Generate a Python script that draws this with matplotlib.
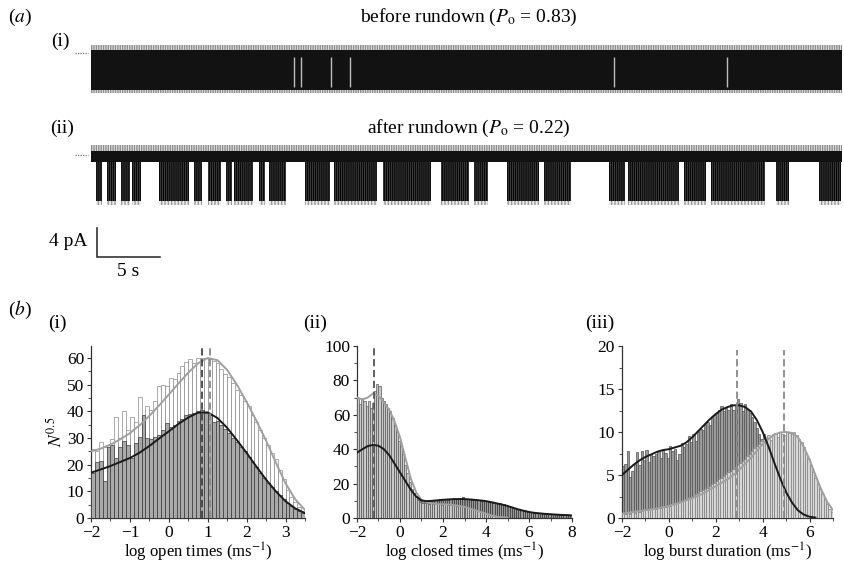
import numpy as np
import matplotlib
matplotlib.use("Agg")
import matplotlib.pyplot as plt
from matplotlib.patches import Rectangle
from matplotlib.ticker import MultipleLocator

plt.rcParams['font.family'] = ['Liberation Serif', 'DejaVu Serif']
plt.rcParams['mathtext.fontset'] = 'stix'
plt.rcParams['hatch.linewidth'] = 1.0

# ------------------------------------------------------------------ data
TRACE_DURATION_S = 60
closed_level = 0.0          # pA
open_level_i = -4.8         # pA, before rundown
open_level_ii = -6.3        # pA, after rundown

# (a)(i): brief long closures visible as light gaps in the dense trace (s)
trace_i_gaps = [16.2, 16.8, 19.2, 20.7, 41.8, 50.8]

# (a)(ii): bursts of openings after rundown (start, end in s)
burst_start = [0.4, 1.25, 2.42, 3.28, 5.43, 8.23, 9.31, 10.79, 11.46, 13.4, 14.26,
               17.06, 19.4, 23.3, 28.0, 30.6, 33.2, 36.2, 41.4, 42.9, 47.4, 49.57,
               54.7, 58.2]
burst_end = [0.9, 1.99, 3.15, 4.0, 7.8, 8.87, 10.39, 11.26, 12.94, 13.9, 15.55,
             19.09, 22.85, 27.2, 30.2, 31.7, 35.8, 38.35, 42.7, 46.98, 49.1, 53.85,
             55.8, 59.9]

# (b)(i) open times, N^0.5 per 0.1 log bin starting at -2
open_before = [26, 25, 28.5, 26.5, 27.5, 29.5, 38, 30, 40, 33,
               38, 36, 45.5, 37.5, 42, 40.5, 44, 49.5, 50, 49.5,
               52.5, 52, 54.5, 57, 58.5, 59.5, 58, 60, 60, 60,
               59.5, 59, 58, 56, 54, 53, 50.5, 48, 46, 44,
               42, 38.5, 36, 33, 30, 27.5, 24.5, 22, 18, 14.5,
               10.5, 8, 6, 4, 2.5]
open_after = [17, 21, 21.5, 14, 26.5, 27.5, 22.5, 26.5, 29, 27.5,
              22.5, 28, 30.5, 38.5, 30, 29.5, 30.5, 31, 33, 35.5,
              34, 35, 36.5, 37, 38.5, 39, 39.5, 40, 40.5, 39.5,
              38.5, 36, 36.5, 35, 33.5, 32, 30, 28.5, 26.5, 25,
              23, 21, 19, 17, 15, 13, 11.5, 10, 8.5, 7,
              5.5, 4.5, 3.5, 2.5, 2]
open_fit_before = [25, 26, 27.5, 29.5, 31.8, 34.8, 38.3, 42.2, 46.3, 50.5, 54.5, 58,
                   60, 59.2, 55.5, 50, 43.5, 36.5, 29, 20.8, 13, 7, 3]
open_fit_after = [17, 18.2, 19.5, 21, 22.5, 24.5, 27, 29.8, 32.5, 35.3, 37.7, 39.5,
                  39.6, 37.5, 33.8, 29.2, 24.4, 19.3, 14.4, 10, 6.3, 3.6, 1.8]
open_peaks = [0.86, 1.06]

# (b)(ii) closed times
closed_before = [70, 66, 70, 68, 65, 68, 64, 67, 74, 78,
                 77, 70, 68, 66, 64, 62, 58, 54, 50, 45,
                 42, 37, 31, 26, 21, 17, 14, 12, 10.5, 9.5,
                 9, 8.5, 8.5, 8, 8.5, 8, 8, 8.5, 8, 7.5,
                 8, 8, 7.5, 7.5, 8, 7.5, 7, 7.5, 7, 7,
                 6.5, 6.5, 6, 5.5, 5, 4.5, 4, 4, 3.5, 3,
                 2.5, 2, 1.5, 1.5, 1, 0.8, 0.5, 0.3, 0.2, 0,
                 0, 0, 0, 0, 0, 0, 0, 0, 0, 0,
                 0, 0, 0, 0, 0, 0, 0, 0, 0, 0,
                 0, 0, 0, 0, 0, 0, 0, 0, 0, 0]
closed_after = [38, 39, 40, 40.5, 41, 41.5, 42, 42.5, 42.5, 42,
                41.5, 41, 40, 39, 37.5, 36, 34, 32, 30, 28,
                26, 24, 22, 20, 18, 16, 14.5, 13, 12, 11,
                10.5, 10, 10, 10.5, 10, 10.5, 10.5, 10.5, 11, 10.5,
                11, 11, 10.5, 11, 11, 11, 11, 11.5, 11, 12,
                11, 11, 11, 10.5, 11, 10.5, 10.5, 10, 10.5, 10,
                10, 9.5, 9.5, 9, 9, 8.5, 8.5, 8, 8, 7.5,
                7, 6.5, 6, 6, 5.5, 5, 4.5, 4.5, 4, 4,
                3.5, 3.5, 3, 3, 3, 2.8, 2.6, 2.5, 2.4, 2.3,
                2.2, 2.1, 2, 2, 1.9, 1.8, 1.8, 1.7, 1.6, 1.5]
closed_fit_before = [70, 69, 70, 72.5, 71, 67, 63, 56, 47, 35, 23, 15, 10.5, 9, 8.5,
                     8, 8, 7.8, 7.5, 7, 6.5, 5.5, 4.5, 3.5, 2.5, 1.5, 0.8, 0.4, 0.2]
closed_fit_after = [38, 40, 41.8, 42.5, 42, 40, 36.5, 31.5, 26.5, 21.5, 16.5, 12.5,
                    10.2, 9.8, 10, 10.3, 10.6, 10.8, 11, 11, 11, 10.8, 10.5, 10.2, 9.8,
                    9.2, 8.5, 7.8, 7, 6, 5, 4.2, 3.5, 3, 2.7, 2.4, 2.2, 2, 1.8, 1.7, 1.5]
closed_peaks = [-1.2]

# (b)(iii) burst duration
burst_before = [0.6, 0.5, 0.7, 0.5, 0.8, 0.6, 0.9, 0.7, 0.8, 1.0,
                0.9, 1.1, 1.0, 1.2, 1.1, 1.3, 1.2, 1.4, 1.3, 1.5,
                1.4, 1.6, 1.7, 1.8, 1.9, 2.0, 2.1, 2.2, 2.4, 2.5,
                2.6, 2.8, 2.9, 3.1, 3.2, 3.4, 3.5, 3.7, 3.9, 4.1,
                4.3, 4.5, 4.7, 4.9, 5.1, 5.3, 5.5, 5.7, 5.9, 6.2,
                6.4, 6.6, 6.9, 7.2, 7.5, 7.8, 8.1, 8.4, 8.6, 8.9,
                9.2, 9.4, 9.6, 9.1, 9.8, 9.9, 9.4, 10.0, 9.8, 9.6,
                10.0, 9.9, 9.8, 10.0, 9.6, 9.2, 8.8, 8.2, 7.5, 6.9,
                6.2, 5.4, 4.7, 4.0, 3.4, 2.8, 2.2, 1.6, 1.0, 0.7]
burst_after = [6, 6.3, 7.8, 4.8, 5.5, 6.3, 7.7, 6.2, 7.8, 6.8,
               7.9, 6.5, 7.5, 7.2, 7.5, 7.8, 7.0, 7.9, 7.6, 7.0,
               8.4, 7.8, 8.0, 6.8, 7.5, 8.7, 8.2, 8.6, 9.5, 8.8,
               9.8, 9.0, 10.0, 10.4, 10.2, 10.8, 11.2, 10.8, 11.6, 12.0,
               12.2, 12.6, 13.0, 12.5, 12.8, 12.6, 13.2, 12.6, 13.0, 13.8,
               13.4, 12.4, 13.2, 12.6, 12.2, 11.8, 11.2, 10.5, 9.8, 9.2,
               9.8, 8.5, 7.2, 6.4, 5.5, 4.8, 5.0, 4.2, 3.5, 3.0,
               2.5, 2.0, 1.6, 1.2, 0.9, 0.7, 0.5, 0.4, 0.3, 0.2,
               0.1, 0, 0, 0, 0, 0, 0, 0, 0, 0]
burst_fit_before = [0.5, 0.6, 0.7, 0.8, 0.9, 1.0, 1.1, 1.25, 1.4, 1.6, 1.8, 2.05, 2.3,
                    2.6, 2.9, 3.3, 3.7, 4.1, 4.5, 5.0, 5.6, 6.3, 7.0, 7.8, 8.6, 9.2,
                    9.7, 9.95, 10.0, 9.9, 9.4, 8.3, 6.8, 5.0, 3.3, 1.9, 0.9]
burst_fit_after = [5.0, 5.6, 6.2, 6.7, 7.1, 7.4, 7.7, 7.9, 8.0, 8.2, 8.4, 8.8, 9.4,
                   10.1, 10.8, 11.5, 12.1, 12.6, 12.9, 13.1, 13.1, 12.9, 12.4, 11.4,
                   10.0, 8.3, 6.4, 4.6, 3.0, 1.8, 0.9, 0.4, 0.15, 0.05]
burst_peaks = [2.9, 4.9]

LOG_START = -2.0
BIN_W = 0.1
FIT_STEP = 0.25

# ------------------------------------------------------------------ figure
W, H = 845, 564
fig = plt.figure(figsize=(W / 100, H / 100), dpi=100)


def rect(l, t, r, b):
    return [l / W, 1 - b / H, (r - l) / W, (b - t) / H]


def ftext(x, y, s, **kw):
    fig.text(x / W, 1 - y / H, s, **kw)


def band(ax, y0, y1, face, hatch_color=None, hatch=None):
    ax.add_patch(Rectangle((0, y0), TRACE_DURATION_S, y1 - y0, facecolor=face,
                           edgecolor=hatch_color if hatch_color else face,
                           hatch=hatch, lw=0))


PX_PER_PA = 7.25

# ---- trace (i)
ax_t1 = fig.add_axes(rect(91, 44, 842, 95))
ax_t1.set_xlim(0, TRACE_DURATION_S)
ax_t1.set_ylim(-(95 - 53) / PX_PER_PA, (53 - 44) / PX_PER_PA)
ax_t1.axis('off')
band(ax_t1, closed_level + 0.3, closed_level + 1.05, '#e6e6e6', '#8c8c8c', '|||||||')
band(ax_t1, open_level_i - 0.75, open_level_i - 0.2, '#e6e6e6', '#8c8c8c', '|||||||')
band(ax_t1, open_level_i - 0.25, closed_level + 0.35, '#121212')
ax_t1.vlines(trace_i_gaps, open_level_i + 0.1, closed_level - 0.6, colors='#bdbdbd', lw=1.0)
ax_t1.plot([-1.3, -0.25], [closed_level, closed_level], color='#777777', lw=0.9,
           ls=(0, (1, 1)), clip_on=False)

# ---- trace (ii)
ax_t2 = fig.add_axes(rect(91, 144, 842, 212))
ax_t2.set_xlim(0, TRACE_DURATION_S)
ax_t2.set_ylim(-(212 - 155) / PX_PER_PA, (155 - 144) / PX_PER_PA)
ax_t2.axis('off')
for s, e in zip(burst_start, burst_end):
    ax_t2.add_patch(Rectangle((s, open_level_ii - 0.6), e - s, 0.6,
                              facecolor='#ececec', edgecolor='#9a9a9a', hatch='|||||', lw=0))
    ax_t2.add_patch(Rectangle((s, open_level_ii), e - s, closed_level - open_level_ii,
                              facecolor='#4a4a4a', edgecolor='#0a0a0a', hatch='||||||||', lw=0))
band(ax_t2, closed_level + 0.55, closed_level + 1.4, '#e6e6e6', '#8c8c8c', '|||||||')
band(ax_t2, closed_level - 0.95, closed_level + 0.6, '#121212')
ax_t2.plot([-1.3, -0.25], [closed_level, closed_level], color='#777777', lw=0.9,
           ls=(0, (1, 1)), clip_on=False)

# scale bar (4 pA, 5 s)
sb_top = (155 - 228) / PX_PER_PA
ax_t2.plot([0.5, 0.5, 5.5], [sb_top, sb_top - 4, sb_top - 4], color='#222222', lw=1.1,
           clip_on=False, solid_joinstyle='miter')
ax_t2.text(-0.3, sb_top - 1.85, '4 pA', ha='right', va='center', fontsize=14, clip_on=False)
ax_t2.text(3.0, (155 - 271) / PX_PER_PA, '5 s', ha='center', va='center', fontsize=14,
           clip_on=False)

# titles / labels of (a)
ftext(8, 17, r'($\mathit{a}$)', fontsize=14, va='center')
ftext(469, 17, r'before rundown ($P_{\mathrm{o}}$ = 0.83)', fontsize=14, ha='center', va='center')
ftext(60, 41, '(i)', fontsize=14, ha='center', va='center')
ftext(469, 128, r'after rundown ($P_{\mathrm{o}}$ = 0.22)', fontsize=14, ha='center', va='center')
ftext(62, 128, '(ii)', fontsize=14, ha='center', va='center')

# ---- histograms
ftext(8, 310, r'($\mathit{b}$)', fontsize=14, va='center')
ftext(57, 323, '(i)', fontsize=14, ha='center', va='center')
ftext(315, 323, '(ii)', fontsize=14, ha='center', va='center')
ftext(600, 323, '(iii)', fontsize=14, ha='center', va='center')


def style_axes(ax, xmaj, xmin, ymaj, ymin):
    for sp in ('top', 'right'):
        ax.spines[sp].set_visible(False)
    for sp in ('left', 'bottom'):
        ax.spines[sp].set_color('#333333')
        ax.spines[sp].set_linewidth(0.9)
    ax.xaxis.set_major_locator(MultipleLocator(xmaj))
    ax.xaxis.set_minor_locator(MultipleLocator(xmin))
    ax.yaxis.set_major_locator(MultipleLocator(ymaj))
    ax.yaxis.set_minor_locator(MultipleLocator(ymin))
    ax.tick_params(which='major', direction='out', length=3, width=0.8, labelsize=12.5,
                   pad=2, color='#333333')
    ax.tick_params(which='minor', direction='out', length=2, width=0.6, color='#333333')


def draw_hist(ax, before, after, fit_before, fit_after, peaks, peak_colors, ytop,
              before_face, before_edge, after_face, after_edge, before_front):
    eb = LOG_START + BIN_W * np.arange(len(before))
    ea = LOG_START + BIN_W * np.arange(len(after))
    zb, za = (3, 2) if before_front else (2, 3)
    ax.bar(eb, before, width=BIN_W, align='edge', color=before_face,
           edgecolor=before_edge, linewidth=0.5, zorder=zb)
    ax.bar(ea, after, width=BIN_W, align='edge', color=after_face,
           edgecolor=after_edge, linewidth=0.5, zorder=za)
    xb = LOG_START + FIT_STEP * np.arange(len(fit_before))
    xa = LOG_START + FIT_STEP * np.arange(len(fit_after))
    ax.plot(xb, fit_before, color='#a0a0a0', lw=1.4, zorder=5)
    ax.plot(xa, fit_after, color='#1a1a1a', lw=1.4, zorder=6)
    for p, c in zip(peaks, peak_colors):
        ax.plot([p, p], [0, ytop], color=c, lw=1.3, ls=(0, (4, 2)), zorder=7)


ax1 = fig.add_axes(rect(91, 346, 305, 518))
ax1.set_xlim(-2, 3.5)
ax1.set_ylim(0, 64.5)
draw_hist(ax1, open_before, open_after, open_fit_before, open_fit_after, open_peaks,
          ['#444444', '#888888'], 64.5, 'white', '#8a8a8a', '#a9a9a9', '#3a3a3a', False)
style_axes(ax1, 1, 0.5, 10, 5)
ax1.set_ylabel(r'$N^{0.5}$', fontsize=12.5, labelpad=1)
ax1.set_xlabel(r'log open times (ms$^{-1}$)', fontsize=12, labelpad=0)

ax2 = fig.add_axes(rect(357, 346, 572, 518))
ax2.set_xlim(-2, 8)
ax2.set_ylim(0, 100)
draw_hist(ax2, closed_before, closed_after, closed_fit_before, closed_fit_after,
          closed_peaks, ['#555555'], 100, '#c8c8c8', '#5a5a5a', '#9a9a9a', '#333333', True)
style_axes(ax2, 2, 1, 20, 10)
ax2.set_xlabel(r'log closed times (ms$^{-1}$)', fontsize=12, labelpad=0)

ax3 = fig.add_axes(rect(622, 346, 833, 518))
ax3.set_xlim(-2, 7)
ax3.set_ylim(0, 20)
draw_hist(ax3, burst_before, burst_after, burst_fit_before, burst_fit_after, burst_peaks,
          ['#888888', '#888888'], 19.5, '#d8d8d8', '#808080', '#9c9c9c', '#505050', True)
style_axes(ax3, 2, 1, 5, 2.5)
ax3.set_xlabel(r'log burst duration (ms$^{-1}$)', fontsize=12, labelpad=0)

fig.savefig('out.png', dpi=100)
